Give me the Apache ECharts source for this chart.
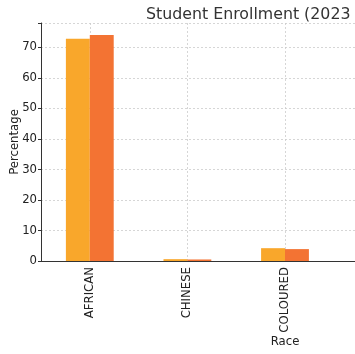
<!DOCTYPE html>
<html>
<head>
    <meta charset="utf-8">
    <title></title>
    <style type="text/css">
        body { margin: 0; background: #fff; }
    </style>
</head>
<body>
<div id="main" style="width: 355px;height:354px;"></div>

<script type="text/javascript" src="https://cdn.jsdelivr.net/npm/echarts@6/dist/echarts.min.js"></script>
<script type="text/javascript">
    var races = ['AFRICAN', 'CHINESE', 'COLOURED'];
    var seriesA = [72.8, 0.6, 4.2];
    var seriesB = [74.1, 0.5, 3.9];
    var yTicks = [0, 10, 20, 30, 40, 50, 60, 70];

    var font = 'DejaVu Sans';
    var myChart = echarts.init(document.getElementById('main'));

    myChart.setOption({
        animation: false,
        title: {
            text: 'Student Enrollment (2023',
            left: 141,
            top: 2,
            textStyle: { fontFamily: font, fontSize: 15.8, fontWeight: 'normal', color: '#333' }
        },
        // the plot runs on past the right edge of the picture
        grid: { left: 41, top: 23, width: 488, bottom: 93, containLabel: false, outerBoundsMode: 'none' },
        xAxis: {
            type: 'category',
            data: races,
            max: 4,
            name: 'Race',
            nameLocation: 'middle',
            nameGap: 75,
            nameMoveOverlap: false,
            nameTextStyle: { fontFamily: font, fontSize: 11.7, color: '#222' },
            axisLine: { lineStyle: { color: '#333', width: 1 } },
            axisTick: { alignWithLabel: true, length: 3, lineStyle: { color: '#333' } },
            axisLabel: {
                rotate: 90,
                interval: 0,
                margin: 6,
                fontFamily: font,
                fontSize: 11.7,
                color: '#222',
                formatter: function (v) { return races.indexOf(v) >= 0 ? v : ''; }
            },
            splitLine: { show: true, alignWithLabel: true, lineStyle: { color: '#ccc', type: [2, 2], width: 0.8 } }
        },
        yAxis: {
            type: 'value',
            min: 0,
            max: 78,
            interval: 10,
            name: 'Percentage',
            nameLocation: 'middle',
            nameGap: 20,
            nameMoveOverlap: false,
            nameTextStyle: { fontFamily: font, fontSize: 11.7, color: '#222' },
            axisLine: { show: true, lineStyle: { color: '#333', width: 1 } },
            axisTick: { show: true, length: 3, lineStyle: { color: '#333' } },
            axisLabel: {
                fontFamily: font, fontSize: 11.7, color: '#222', margin: 4,
                formatter: function (v) { return yTicks.indexOf(v) >= 0 ? String(v) : ''; }
            },
            splitLine: { show: true, lineStyle: { color: '#ccc', type: [2, 2], width: 0.8 } }
        },
        series: [{
            type: 'bar',
            data: seriesA,
            barGap: '0%',
            barCategoryGap: '51%',
            itemStyle: { color: '#F9A72B' }
        }, {
            type: 'bar',
            data: seriesB,
            itemStyle: { color: '#F37333' }
        }]
    });
</script>

</body>
</html>
